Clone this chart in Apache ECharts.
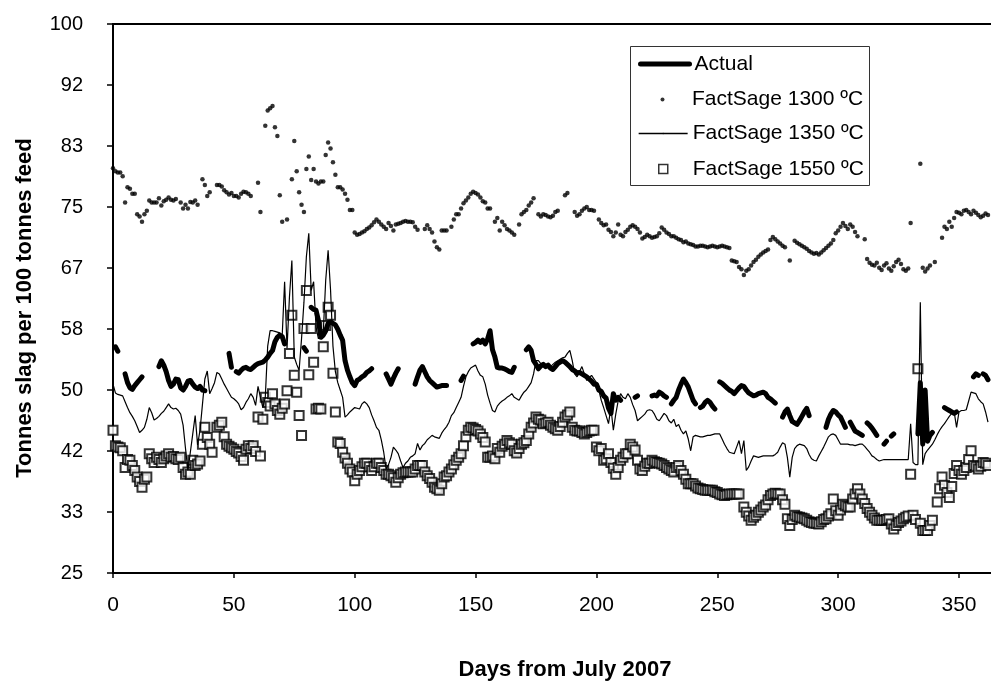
<!DOCTYPE html>
<html><head><meta charset="utf-8">
<script src="https://cdn.jsdelivr.net/npm/echarts@6/dist/echarts.min.js"></script>
<style>html,body{margin:0;padding:0;background:#fff}#c{width:991px;height:682px}</style>
</head><body><div id="c"></div>
<script>
// y tick labels as printed on the chart (axis runs 25..100 in steps of 1/12 of 100)
const yTickLabels = ['25','33','42','50','58','67','75','83','92','100'];
const xTickLabels = ['0','50','100','150','200','250','300','350'];
const seriesNames = ['Actual','FactSage 1300 ºC','FactSage 1350 ºC','FactSage 1550 ºC'];

// one value per day, day 0 .. 362 (null = no reading)
const actual = [
null,55.9,55.3,null,null,52.2,51.0,50.3,50.1,50.6,
51.0,51.4,51.8,null,null,null,null,null,null,53.2,
54.0,53.4,52.5,51.3,50.5,50.8,51.5,51.4,50.3,50.0,
50.5,51.2,51.3,50.8,50.4,50.2,50.5,50.0,49.9,null,
null,null,null,null,null,null,null,null,55.0,53.1,
null,52.5,52.3,52.7,53.0,53.1,52.9,52.8,53.1,53.4,
53.6,53.7,53.8,54.1,54.5,55.0,55.4,56.6,57.2,57.5,
57.3,56.3,null,null,null,null,null,null,null,55.8,
55.3,null,61.3,61.0,60.9,59.5,57.2,57.5,58.1,59.1,
59.3,59.1,58.9,58.3,57.5,56.8,54.0,52.7,51.8,51.0,
50.6,51.3,51.5,51.8,52.0,52.4,52.6,52.9,null,null,
null,null,null,52.2,51.5,50.8,51.6,52.3,52.9,null,
null,null,null,null,null,50.8,51.8,52.7,53.2,52.5,
51.8,51.3,51.0,50.7,50.4,50.5,50.6,50.6,50.6,null,
null,null,null,null,51.3,51.9,null,null,null,56.3,
56.5,56.8,56.5,56.8,56.3,57.0,58.1,55.5,54.5,53.1,
53.0,53.0,52.9,52.7,52.5,52.4,53.1,null,null,null,
null,55.5,55.9,55.4,54.0,53.5,52.9,53.3,53.5,53.2,
53.4,53.0,52.8,53.2,53.6,53.8,54.0,53.8,53.5,53.2,
52.8,52.6,52.3,52.4,52.2,52.0,51.8,51.5,51.2,50.8,
50.8,50.0,49.8,49.2,48.9,47.5,46.8,49.5,48.6,49.0,
48.6,null,null,null,null,null,49.0,49.2,null,null,
null,null,null,49.2,49.3,49.2,49.7,49.5,49.2,49.0,
null,48.1,48.6,49.0,50.0,50.8,51.5,51.0,50.4,49.5,
48.6,48.1,null,47.6,47.8,48.3,48.6,48.3,47.8,47.4,
null,51.1,50.9,50.6,50.3,50.0,49.8,49.5,49.9,50.3,
50.6,50.5,50.0,49.6,49.4,49.2,49.3,49.5,49.6,49.7,
49.5,49.0,48.8,48.5,48.2,null,null,46.3,47.0,47.4,
46.5,45.7,45.5,45.3,45.8,46.4,47.0,47.5,46.5,null,
null,null,null,null,null,44.9,46.0,46.7,47.2,47.0,
46.6,46.3,45.6,44.9,null,45.6,45.0,44.4,44.2,44.0,
43.8,null,45.5,45.2,44.8,44.3,43.8,null,null,42.6,
43.0,null,43.7,44.0,null,null,null,null,null,null,
null,null,null,44.0,51.0,42.6,50.0,43.0,43.8,44.2,
null,null,null,null,47.6,47.4,47.2,47.0,46.8,47.0,
null,null,null,null,null,null,51.8,52.2,52.0,null,
52.2,52.0,51.4
];

const fs1300 = [
80.3,79.9,79.7,79.7,79.2,75.6,77.7,77.5,76.8,76.8,
74.0,73.7,73.0,74.0,74.5,75.9,75.6,75.6,75.6,76.2,
75.2,75.8,76.0,76.3,76.0,75.9,76.1,null,75.6,74.8,
75.3,74.8,75.7,75.6,75.9,75.3,null,78.8,78.0,76.5,
77.0,null,null,78.0,78.0,77.8,77.3,77.0,76.7,76.9,
76.5,76.5,76.3,76.8,77.1,77.0,76.8,76.5,null,null,
78.3,74.3,null,86.1,88.2,88.5,88.8,85.9,84.7,76.6,
73.0,null,73.3,null,78.8,84.0,79.9,77.0,75.3,74.3,
80.2,81.9,78.7,80.2,78.5,78.2,78.5,78.5,82.1,83.8,
83.0,81.1,79.4,77.7,77.7,77.4,76.8,76.0,74.6,74.6,
71.5,71.2,71.3,71.5,71.7,72.0,72.2,72.5,72.9,73.3,
73.0,72.6,72.3,72.0,72.8,72.4,71.8,72.6,72.7,72.8,
73.0,73.1,73.0,73.0,72.9,72.3,71.9,null,null,72.0,
72.5,72.0,71.5,70.3,69.5,69.2,71.8,71.8,71.8,null,
72.3,73.3,74.0,74.0,74.8,75.5,75.9,76.3,76.8,77.1,
76.9,76.7,76.3,75.8,75.6,74.8,74.8,null,73.0,73.5,
71.8,73.0,72.5,72.0,71.8,71.5,71.2,null,72.6,74.0,
74.3,74.6,75.2,75.6,76.2,null,74.0,73.7,74.0,73.9,
73.7,73.6,73.8,74.3,74.5,null,null,76.6,76.9,null,
null,74.3,73.8,74.0,74.5,74.8,75.0,74.6,74.6,74.5,
null,73.3,72.8,72.5,72.6,71.9,71.6,71.0,71.5,72.6,
71.2,71.0,71.6,71.9,72.3,72.5,72.3,72.0,71.5,70.7,
70.9,71.2,71.0,70.8,70.9,71.0,71.4,72.2,71.9,71.5,
71.3,71.0,71.0,70.8,70.6,70.5,70.2,70.3,70.0,69.9,
69.8,69.6,69.6,69.7,69.7,69.6,69.5,69.6,69.7,69.6,
69.5,69.6,69.7,69.6,69.5,69.4,67.7,67.6,67.5,66.8,
66.5,65.7,66.3,66.5,67.0,67.5,67.8,68.2,68.5,68.8,
69.0,69.2,70.5,70.9,70.6,70.3,70.0,69.7,69.5,null,
67.7,null,70.4,70.1,69.9,69.7,69.5,69.3,69.0,68.8,
68.6,68.7,68.5,68.8,69.1,69.4,69.7,70.0,70.5,71.4,
71.8,72.3,72.8,72.4,72.0,72.6,72.3,71.6,71.0,null,
null,70.6,67.9,67.4,67.1,67.0,67.4,66.7,66.4,67.0,
67.3,66.6,66.3,66.9,67.5,67.8,67.2,66.5,66.3,66.6,
72.8,null,null,null,80.9,66.7,66.2,66.6,67.0,null,
67.5,null,null,70.8,72.3,72.0,73.0,72.3,73.5,74.3,
74.2,74.0,74.5,74.6,74.3,74.0,74.5,74.2,73.9,73.6,
73.8,74.1,73.9
];

const fs1350 = [
50.8,49.6,49.4,49.3,49.2,48.4,47.6,46.9,46.4,45.8,
45.0,44.2,44.5,44.9,46.0,47.6,46.9,45.9,46.1,46.4,
46.8,47.1,47.6,48.1,47.6,47.4,47.5,47.2,46.7,45.2,
42.0,39.0,41.5,44.0,46.5,42.5,44.5,48.0,51.5,52.6,
49.5,50.2,51.0,52.4,52.2,51.5,50.8,50.2,49.6,49.0,
48.8,48.5,48.1,47.3,47.6,48.3,48.8,49.5,49.0,47.9,
50.5,49.0,47.6,49.0,56.0,58.1,58.1,58.0,57.9,57.8,
57.4,64.8,55.7,62.7,67.7,54.5,53.5,52.7,57.0,62.0,
68.2,71.4,63.6,64.8,58.6,57.0,57.5,57.9,65.0,69.1,
63.7,56.0,52.5,51.0,50.0,49.0,46.3,46.6,47.0,47.3,
47.6,47.5,47.4,48.1,48.4,48.1,47.6,46.6,45.8,44.9,
44.5,43.2,41.5,39.2,39.8,40.8,42.2,41.8,41.3,40.3,
39.4,40.0,40.3,40.8,41.0,41.3,42.7,41.8,42.4,42.7,
43.2,43.5,43.8,43.6,43.5,43.4,44.1,44.6,45.0,45.6,
46.5,46.9,47.6,48.3,49.0,50.5,51.8,52.5,53.0,53.2,
53.4,52.6,52.0,51.8,50.8,49.3,48.2,47.2,47.0,47.8,
48.2,48.5,48.7,49.0,49.2,49.5,49.0,48.8,48.6,49.2,
49.7,50.0,50.5,51.0,52.2,54.0,54.0,53.6,53.4,53.3,
53.2,53.2,53.5,53.8,54.0,54.2,54.4,54.5,55.0,55.4,
54.0,52.2,51.8,52.5,53.2,52.2,51.3,51.7,52.0,51.5,
51.0,50.0,48.6,47.6,46.5,45.4,47.6,44.5,46.7,48.5,
49.5,49.0,48.8,49.5,49.0,48.0,47.2,45.8,46.1,46.4,
46.7,47.2,47.3,47.2,46.7,46.0,45.8,46.3,46.8,46.5,
45.8,45.5,46.0,45.0,45.3,44.5,44.0,44.4,43.3,41.7,
43.6,43.8,43.7,43.6,43.6,43.7,43.8,43.8,43.9,44.0,
44.0,44.0,43.3,42.6,42.0,41.5,41.4,41.3,42.2,43.1,
41.3,43.1,39.0,39.5,40.3,41.0,40.9,40.8,40.9,41.0,
41.0,41.0,41.0,41.0,41.2,41.5,42.2,42.8,42.6,40.8,
38.1,40.8,42.0,42.4,42.6,42.5,42.4,42.0,41.2,40.6,
40.4,40.3,41.0,41.6,42.2,42.9,43.6,43.9,44.0,43.8,
43.2,42.6,42.6,42.6,42.6,42.5,42.5,42.4,42.5,42.6,
42.6,42.3,41.9,41.5,41.0,40.8,40.5,40.3,40.4,40.5,
40.5,40.5,40.5,40.5,40.5,40.5,40.5,40.5,40.5,40.5,
45.4,40.1,39.8,39.8,62.0,39.8,41.3,41.8,42.2,42.6,
43.2,43.9,44.5,45.0,45.4,45.9,46.4,46.8,47.0,44.9,
47.0,47.2,47.2,47.3,48.5,49.7,49.6,49.5,48.8,48.4,
48.1,47.0,45.6
];

const fs1550 = [
44.5,42.4,42.2,42.1,41.7,39.4,40.5,40.4,39.7,39.0,
38.1,37.5,36.7,37.8,38.1,41.3,40.6,40.1,40.8,40.5,
40.1,40.6,41.0,41.3,40.8,40.9,40.6,40.5,40.8,39.4,
38.5,38.8,38.5,40.4,39.7,39.9,40.3,42.6,44.9,43.5,
42.6,41.5,null,44.9,45.2,45.6,43.6,42.6,42.3,42.1,
41.9,41.6,41.4,40.9,40.4,41.9,42.4,42.0,42.4,41.6,
46.3,41.0,46.0,49.0,48.3,47.8,49.5,48.1,47.2,46.7,
47.5,48.1,49.9,55.0,60.2,52.0,49.7,46.5,43.8,58.4,
63.6,52.1,58.4,53.8,47.4,47.5,47.4,55.9,58.8,61.3,
60.2,52.3,47.0,42.9,42.7,41.5,40.7,40.0,39.2,38.8,
37.6,38.5,39.0,39.5,40.0,40.0,39.5,39.0,39.5,40.0,
40.0,39.4,39.0,38.5,38.5,38.3,38.0,37.4,38.0,38.5,
38.7,38.8,38.8,38.8,38.8,39.2,39.7,39.7,39.7,38.8,
38.3,37.9,37.4,36.7,36.5,36.3,37.2,38.1,38.3,38.8,
39.2,39.8,40.4,40.8,41.3,42.4,43.6,44.5,44.9,44.8,
44.6,44.4,44.0,43.5,42.9,40.8,40.8,41.0,40.6,42.0,
41.5,42.3,42.6,43.1,42.8,42.6,41.7,41.4,42.0,42.6,
42.8,43.1,44.0,44.9,45.5,46.3,46.0,45.9,45.4,45.5,
45.6,45.2,44.9,44.7,44.5,45.0,45.6,46.3,46.6,47.0,
44.9,44.5,44.4,44.4,44.2,44.0,44.2,44.4,44.5,44.5,
42.2,41.7,42.0,40.4,40.6,41.3,40.1,39.3,38.5,39.4,
40.4,40.8,41.3,41.3,42.6,42.2,41.8,40.4,39.2,39.0,
39.6,40.0,40.0,40.4,40.2,40.1,40.0,39.9,39.7,39.4,
39.2,39.0,38.8,39.4,39.7,39.0,38.5,37.8,37.2,37.2,
37.2,36.9,36.6,36.5,36.4,36.3,36.3,36.3,36.3,36.1,
36.0,35.8,35.7,35.6,35.7,35.8,35.8,35.8,35.8,35.8,
null,34.0,33.3,32.8,32.2,32.6,32.9,33.3,33.6,34.0,
34.3,35.0,35.6,35.8,35.9,35.8,35.8,35.0,34.4,32.4,
31.5,32.3,32.9,32.7,32.6,32.5,32.4,32.2,32.0,31.9,
31.8,31.8,31.7,32.0,32.3,32.4,32.8,33.1,35.1,33.5,
32.9,33.6,34.4,34.2,34.0,34.0,35.1,35.8,36.5,35.8,
35.1,34.5,33.8,33.3,32.9,32.5,32.2,32.2,32.2,32.2,
32.3,32.4,31.7,31.0,31.5,31.9,32.1,32.4,32.6,32.8,
38.5,32.9,32.3,52.9,31.8,30.8,30.8,30.8,31.5,32.2,
null,34.7,36.5,38.1,37.0,36.0,35.3,36.8,38.6,39.7,
39.0,38.5,39.0,39.4,40.5,41.7,39.7,39.5,39.2,39.6,
40.1,40.0,39.7
];

const FONT = '"Liberation Sans", Arial, Helvetica, sans-serif';
const toLine = arr => arr.map((v, day) => [day, v]);
const toPoints = arr => arr.map((v, day) => [day, v]).filter(p => p[1] !== null);

const chart = echarts.init(document.getElementById('c'), null, {renderer: 'canvas'});
const Y_MIN = 25, Y_MAX = 100, Y_STEP = 25 / 3;
const legendText = {fontFamily: FONT, fontSize: 21, color: '#000'};

chart.setOption({
  animation: false,
  backgroundColor: '#fff',
  textStyle: {fontFamily: FONT, color: '#000'},
  grid: {left: 113, top: 24, width: 904, height: 549, outerBoundsMode: 'none', containLabel: false,
         show: true, borderColor: '#000', borderWidth: 2, backgroundColor: 'transparent'},
  xAxis: {
    type: 'value', min: 0, max: 374, interval: 50,
    name: 'Days from July 2007', nameLocation: 'middle', nameGap: 86,
    nameTextStyle: {fontFamily: FONT, fontSize: 22, fontWeight: 'bold', color: '#000'},
    axisLine: {show: true, lineStyle: {color: '#000', width: 2}},
    axisTick: {show: true, inside: false, length: 5, lineStyle: {color: '#000', width: 1.5}},
    axisLabel: {fontFamily: FONT, fontSize: 21, color: '#000', margin: 22,
      formatter: v => { const i = Math.round(v / 50); return (i >= 0 && i < xTickLabels.length && Math.abs(v - i * 50) < 1e-6) ? xTickLabels[i] : ''; }},
    splitLine: {show: false}
  },
  yAxis: {
    type: 'value', min: Y_MIN, max: Y_MAX, interval: Y_STEP,
    name: 'Tonnes slag per 100 tonnes feed', nameLocation: 'middle', nameGap: 77,
    nameTextStyle: {fontFamily: FONT, fontSize: 22, fontWeight: 'bold', color: '#000', padding: [0, 19, 0, 0]},
    axisLine: {show: true, lineStyle: {color: '#000', width: 2}},
    axisTick: {show: true, inside: false, length: 6, lineStyle: {color: '#000', width: 1.5}},
    axisLabel: {fontFamily: FONT, fontSize: 20, color: '#000', margin: 30,
      formatter: v => yTickLabels[Math.round((v - Y_MIN) / Y_STEP)] || ''},
    splitLine: {show: false}
  },
  legend: [
    {data: [seriesNames[0]], left: 638, top: 53.5, itemWidth: 49, itemHeight: 5,
     lineStyle: {width: 5, color: '#000', cap: 'round'}, textStyle: legendText},
    {data: [seriesNames[1]], left: 660.5, top: 89, itemWidth: 4, itemHeight: 4,
     itemStyle: {color: '#000'}, textStyle: Object.assign({padding: [0, 0, 0, 22.5]}, legendText)},
    {data: [seriesNames[2]], left: 638, top: 123, itemWidth: 49, itemHeight: 2,
     lineStyle: {width: 1.3, color: '#000'}, textStyle: legendText},
    {data: [seriesNames[3]], left: 658, top: 158.5, itemWidth: 9, itemHeight: 9,
     itemStyle: {color: '#fff', borderColor: '#000', borderWidth: 1.5},
     textStyle: Object.assign({padding: [0, 0, 0, 20]}, legendText)}
  ].map(l => Object.assign({orient: 'vertical', padding: 0, z: 10, selectedMode: false}, l)),
  graphic: [{
    type: 'rect', z: 5, silent: true,
    shape: {x: 630.5, y: 46.5, width: 239, height: 139},
    style: {fill: '#fff', stroke: '#333', lineWidth: 1}
  }],
  series: [
    {name: seriesNames[0], type: 'line', data: toLine(actual), symbol: 'none', connectNulls: false,
     lineStyle: {color: '#000', width: 5, cap: 'round', join: 'round'}, itemStyle: {color: '#000'}, silent: true},
    {name: seriesNames[1], type: 'scatter', data: toPoints(fs1300), symbol: 'circle', symbolSize: 4.5,
     itemStyle: {color: '#000'}, silent: true},
    {name: seriesNames[2], type: 'line', data: toLine(fs1350), symbol: 'none', connectNulls: false,
     lineStyle: {color: '#000', width: 1.2}, itemStyle: {color: '#000'}, silent: true},
    {name: seriesNames[3], type: 'scatter', data: toPoints(fs1550), symbol: 'rect', symbolSize: 9,
     itemStyle: {color: '#fff', borderColor: '#000', borderWidth: 2}, silent: true}
  ]
});
</script>
</body></html>
